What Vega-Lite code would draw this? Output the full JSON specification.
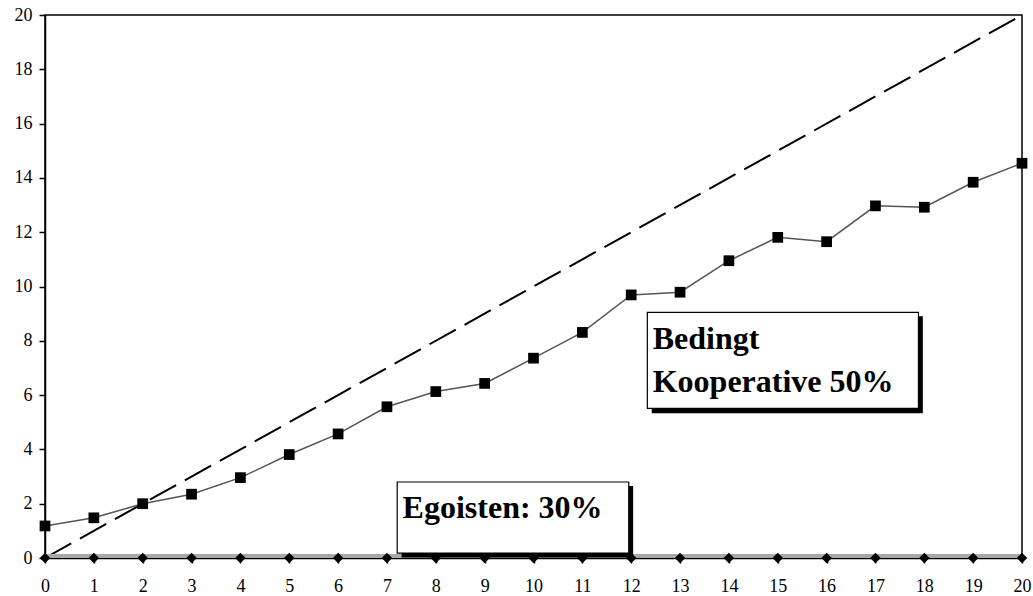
{
  "$schema": "https://vega.github.io/schema/vega-lite/v6.json",
  "autosize": {"type": "none"},
  "width": 977,
  "height": 543,
  "padding": {"left": 45, "top": 15, "right": 11, "bottom": 38},
  "background": "white",
  "config": {
    "view": {"stroke": "black", "strokeWidth": 1.5},
    "axis": {
      "grid": false,
      "domainColor": "black",
      "domainWidth": 1.5,
      "tickColor": "black",
      "tickWidth": 1.5,
      "labelFont": "Liberation Serif",
      "labelFontSize": 18,
      "labelColor": "black",
      "title": null,
      "zindex": 1
    }
  },
  "datasets": {
    "diag": [{"x": 0, "y": 0}, {"x": 20, "y": 20}],
    "ego": [
      {"x": 0, "y": 0}, {"x": 1, "y": 0}, {"x": 2, "y": 0}, {"x": 3, "y": 0}, {"x": 4, "y": 0},
      {"x": 5, "y": 0}, {"x": 6, "y": 0}, {"x": 7, "y": 0}, {"x": 8, "y": 0}, {"x": 9, "y": 0},
      {"x": 10, "y": 0}, {"x": 11, "y": 0}, {"x": 12, "y": 0}, {"x": 13, "y": 0}, {"x": 14, "y": 0},
      {"x": 15, "y": 0}, {"x": 16, "y": 0}, {"x": 17, "y": 0}, {"x": 18, "y": 0}, {"x": 19, "y": 0},
      {"x": 20, "y": 0}
    ],
    "koop": [
      {"x": 0, "y": 1.18}, {"x": 1, "y": 1.48}, {"x": 2, "y": 2.0}, {"x": 3, "y": 2.35},
      {"x": 4, "y": 2.96}, {"x": 5, "y": 3.81}, {"x": 6, "y": 4.57}, {"x": 7, "y": 5.57},
      {"x": 8, "y": 6.13}, {"x": 9, "y": 6.43}, {"x": 10, "y": 7.36}, {"x": 11, "y": 8.31},
      {"x": 12, "y": 9.69}, {"x": 13, "y": 9.79}, {"x": 14, "y": 10.95}, {"x": 15, "y": 11.81},
      {"x": 16, "y": 11.65}, {"x": 17, "y": 12.97}, {"x": 18, "y": 12.92}, {"x": 19, "y": 13.84},
      {"x": 20, "y": 14.54}
    ],
    "shadows": [
      {"x1": 7.3, "x2": 12.04, "y1": 0.02, "y2": 2.65},
      {"x1": 12.42, "x2": 17.97, "y1": 5.33, "y2": 8.9}
    ],
    "boxes": [
      {"x1": 7.21, "x2": 11.95, "y1": 0.18, "y2": 2.8},
      {"x1": 12.33, "x2": 17.88, "y1": 5.51, "y2": 9.05}
    ],
    "labels": [
      {"x": 7.32, "y": 1.47, "text": "Egoisten: 30%"},
      {"x": 12.44, "y": 7.69, "text": "Bedingt"},
      {"x": 12.44, "y": 6.13, "text": "Kooperative 50%"}
    ]
  },
  "layer": [
    {
      "data": {"name": "diag"},
      "mark": {"type": "line", "color": "black", "strokeWidth": 2, "strokeDash": [30, 10]},
      "encoding": {
        "x": {"field": "x", "type": "quantitative", "scale": {"domain": [0, 20], "nice": false},
              "axis": {"values": [0,1,2,3,4,5,6,7,8,9,10,11,12,13,14,15,16,17,18,19,20], "tickSize": 5, "labelPadding": 14, "labelFlush": false}},
        "y": {"field": "y", "type": "quantitative", "scale": {"domain": [0, 20], "nice": false},
              "axis": {"values": [0,2,4,6,8,10,12,14,16,18,20], "tickSize": 6, "labelPadding": 7}}
      }
    },
    {
      "data": {"name": "ego"},
      "mark": {"type": "line", "color": "#a8a8a8", "strokeWidth": 4, "yOffset": -2},
      "encoding": {
        "x": {"field": "x", "type": "quantitative"},
        "y": {"field": "y", "type": "quantitative"}
      }
    },
    {
      "data": {"name": "ego"},
      "mark": {"type": "point", "shape": "diamond", "filled": true, "color": "black", "size": 110, "opacity": 1},
      "encoding": {
        "x": {"field": "x", "type": "quantitative"},
        "y": {"field": "y", "type": "quantitative"}
      }
    },
    {
      "data": {"name": "koop"},
      "mark": {"type": "line", "color": "#555555", "strokeWidth": 1.5},
      "encoding": {
        "x": {"field": "x", "type": "quantitative"},
        "y": {"field": "y", "type": "quantitative"}
      }
    },
    {
      "data": {"name": "koop"},
      "mark": {"type": "point", "shape": "square", "filled": true, "color": "black", "size": 115, "opacity": 1},
      "encoding": {
        "x": {"field": "x", "type": "quantitative"},
        "y": {"field": "y", "type": "quantitative"}
      }
    },
    {
      "data": {"name": "shadows"},
      "mark": {"type": "rect", "color": "black"},
      "encoding": {
        "x": {"field": "x1", "type": "quantitative"},
        "x2": {"field": "x2"},
        "y": {"field": "y1", "type": "quantitative"},
        "y2": {"field": "y2"}
      }
    },
    {
      "data": {"name": "boxes"},
      "mark": {"type": "rect", "fill": "white", "stroke": "black", "strokeWidth": 1.2},
      "encoding": {
        "x": {"field": "x1", "type": "quantitative"},
        "x2": {"field": "x2"},
        "y": {"field": "y1", "type": "quantitative"},
        "y2": {"field": "y2"}
      }
    },
    {
      "data": {"name": "labels"},
      "mark": {"type": "text", "align": "left", "baseline": "alphabetic", "font": "Liberation Serif", "fontWeight": "bold", "fontSize": 32, "color": "black"},
      "encoding": {
        "x": {"field": "x", "type": "quantitative"},
        "y": {"field": "y", "type": "quantitative"},
        "text": {"field": "text"}
      }
    }
  ]
}
